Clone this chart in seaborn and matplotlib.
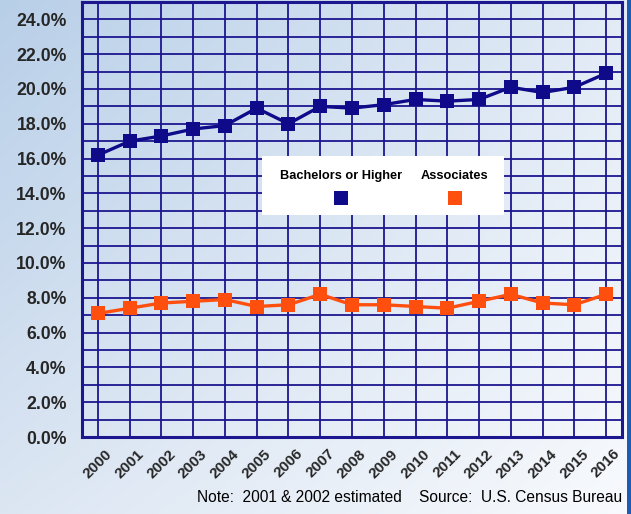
import numpy as np
import pandas as pd
import matplotlib
matplotlib.use("Agg")
import matplotlib.pyplot as plt
from matplotlib.patches import Rectangle
from matplotlib.lines import Line2D
from matplotlib.colors import to_rgb
import seaborn as sns

# Share of population by educational attainment (%)
years = list(range(2000, 2017))
bachelors = [16.2, 17.0, 17.3, 17.7, 17.9, 18.9, 18.0, 19.0, 18.9, 19.1,
             19.4, 19.3, 19.4, 20.1, 19.8, 20.1, 20.9]
associates = [7.1, 7.4, 7.7, 7.8, 7.9, 7.5, 7.6, 8.2, 7.6, 7.6,
              7.5, 7.4, 7.8, 8.2, 7.7, 7.6, 8.2]
series_names = ["Bachelors or Higher", "Associates"]
y_ticks = [0, 2, 4, 6, 8, 10, 12, 14, 16, 18, 20, 22, 24]

NAVY = "#0e0a8a"
ORANGE = "#ff4f0f"
GRID = "#1c168f"

df = pd.DataFrame({
    "year": years * 2,
    "value": bachelors + associates,
    "series": [series_names[0]] * len(years) + [series_names[1]] * len(years),
})

sns.set_theme(style="white")
plt.rcParams["font.family"] = ["Liberation Sans", "DejaVu Sans"]

fig = plt.figure(figsize=(6.31, 5.14), dpi=100)

# Soft diagonal blue-to-white backdrop
bg = fig.add_axes([0, 0, 1, 1], zorder=-10)
bg.set_axis_off()
c_tl = np.array(to_rgb("#b8cfe8"))
c_tr = np.array(to_rgb("#e2ebf6"))
c_bl = np.array(to_rgb("#dce6f3"))
c_br = np.array(to_rgb("#f8fafd"))
h, w = 200, 250
u = np.linspace(0, 1, w)[None, :, None]
v = np.linspace(0, 1, h)[:, None, None]
img = (c_tl * (1 - u) * (1 - v) + c_tr * u * (1 - v)
       + c_bl * (1 - u) * v + c_br * u * v)
bg.imshow(img, aspect="auto", extent=[0, 1, 0, 1], origin="upper")
bg.set_xlim(0, 1)
bg.set_ylim(0, 1)
fig.patches.append(Rectangle((627 / 631, 0), 4 / 631, 1, transform=fig.transFigure,
                             facecolor="#1d5cb4", edgecolor="none", zorder=5))

ax = fig.add_axes([82 / 631, 1 - 437 / 514, 540 / 631, 435 / 514])
ax.patch.set_alpha(0)

sns.lineplot(data=df, x="year", y="value", hue="series", hue_order=series_names,
             palette=[NAVY, ORANGE], marker="s", markersize=10, markeredgewidth=0,
             linewidth=2.4, legend=False, ax=ax, zorder=4)

ax.set_xlim(1999.5, 2016.5)
ax.set_ylim(0, 25)
ax.set_xticks(years)
ax.set_xticklabels([str(y) for y in years], rotation=45, ha="center",
                   fontsize=11, fontweight="bold")
ax.set_yticks(y_ticks)
ax.set_yticklabels([f"{t:.1f}%" for t in y_ticks], fontsize=12.7, fontweight="bold")
ax.set_yticks(np.arange(1, 25, 2), minor=True)
ax.tick_params(axis="both", which="both", length=0)
ax.tick_params(axis="y", pad=11)
ax.tick_params(axis="x", pad=7)
ax.set_xlabel("")
ax.set_ylabel("")
ax.grid(True, which="both", color=GRID, linewidth=1.3)
ax.set_axisbelow(True)
for s in ax.spines.values():
    s.set_visible(True)
    s.set_color(GRID)
    s.set_linewidth(2.2)

# Legend panel: names above their markers
ax.add_patch(Rectangle((0.333, 0.510), 0.448, 0.136, transform=ax.transAxes,
                       facecolor="white", edgecolor="none", zorder=6))
for name, color, xc in [(series_names[0], NAVY, 0.4796), (series_names[1], ORANGE, 0.6907)]:
    ax.text(xc, 0.600, name, transform=ax.transAxes, ha="center", va="center",
            fontsize=9.2, fontweight="bold", color="black", zorder=7)
    ax.add_line(Line2D([xc], [0.549], transform=ax.transAxes, marker="s",
                       markersize=9.5, markeredgewidth=0, color=color, zorder=7))

fig.text(197 / 631, 1 - 497 / 514, "Note:  2001 & 2002 estimated", ha="left",
         va="center", fontsize=11.2, color="black")
fig.text(622 / 631, 1 - 497 / 514, "Source:  U.S. Census Bureau", ha="right",
         va="center", fontsize=11.2, color="black")

fig.savefig("out.png", dpi=100)
